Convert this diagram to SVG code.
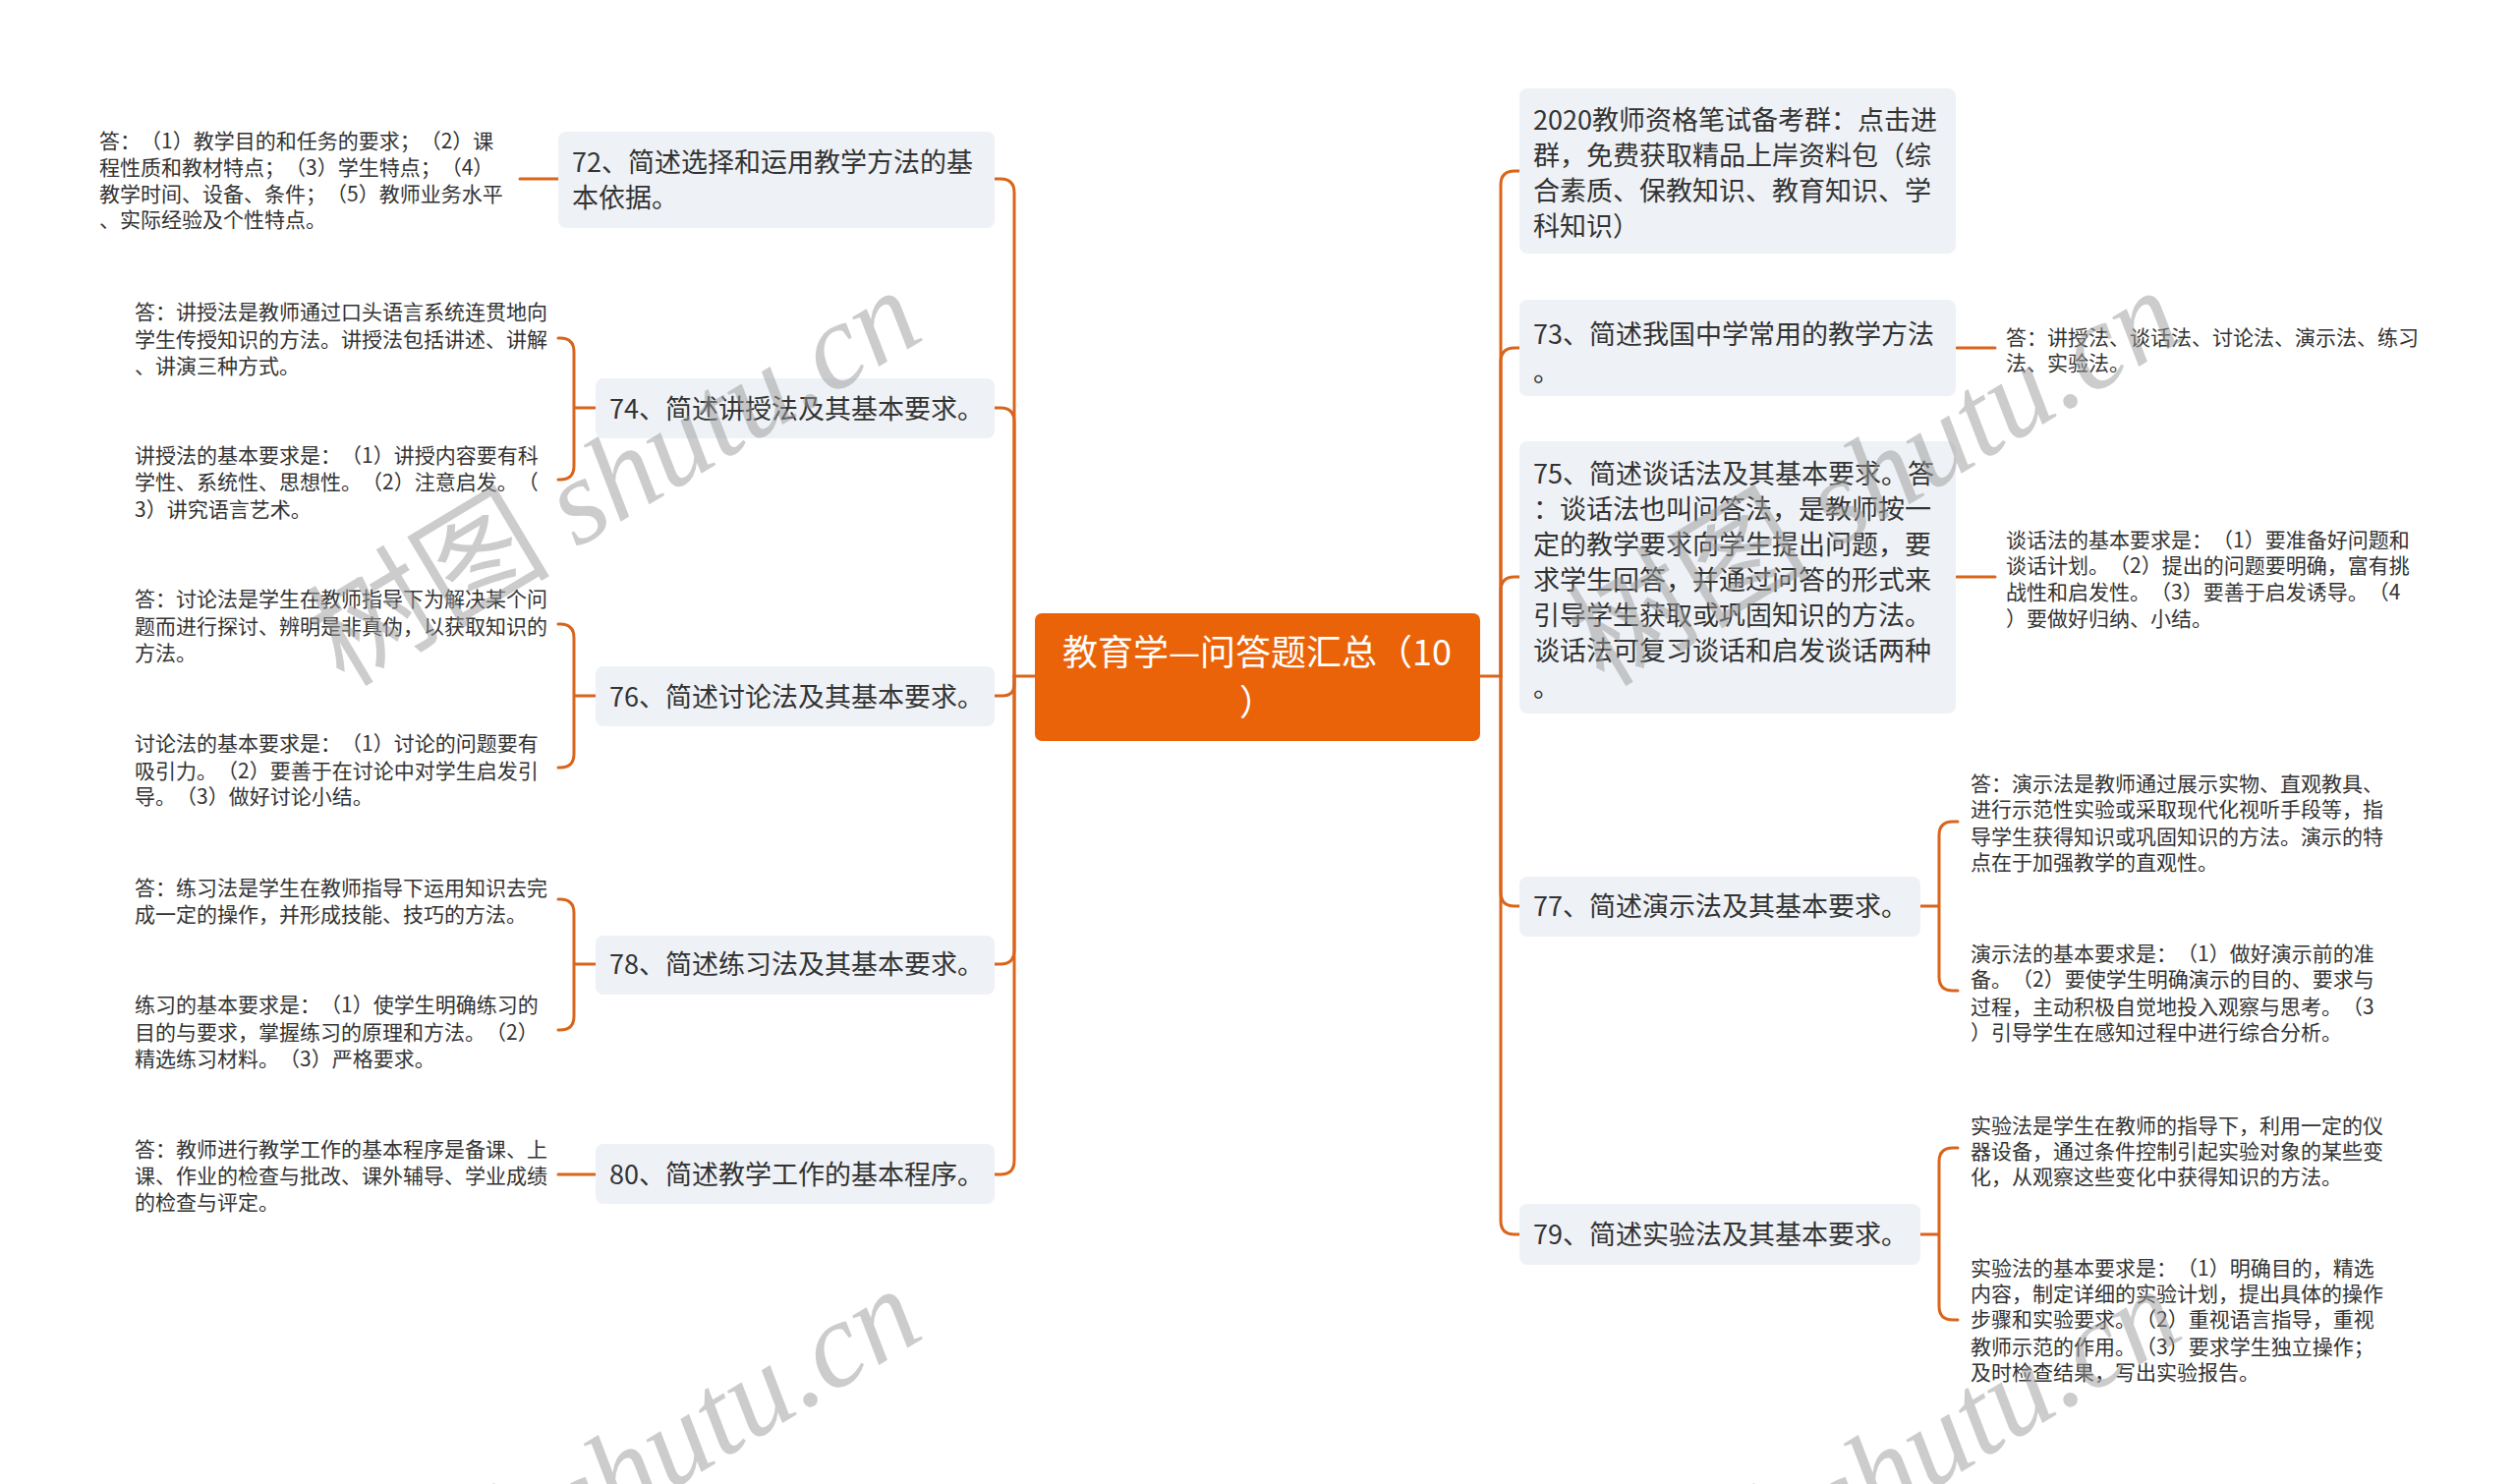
<svg xmlns="http://www.w3.org/2000/svg" width="2560" height="1510" viewBox="0 0 2560 1510">
<style>
.bg{fill:#ffffff}
.box{fill:#EEF1F5}
.root{fill:#EB6309}
.t1{font-family:"Noto Sans CJK SC","Noto Sans",sans-serif;font-size:27px;fill:#333333;text-spacing-trim:space-all}
.t0{font-family:"Noto Sans CJK SC","Noto Sans",sans-serif;font-size:36px;fill:#ffffff;text-spacing-trim:space-all}
.t2{font-family:"Noto Sans CJK SC","Noto Sans",sans-serif;font-size:21px;fill:#333333;text-spacing-trim:space-all}
.ln{fill:none;stroke:#D9651C;stroke-width:3;stroke-linecap:round}
.wm{fill:#999999;fill-opacity:0.5}
.wmc{font-family:"Noto Sans CJK SC",serif}
.wml{font-family:"Liberation Serif",serif;font-style:italic}
</style>
<rect class="bg" x="0" y="0" width="2560" height="1510"/>

<g id="connectors">
  <path class="ln" d="M1053,688 H1032"/>
  <path class="ln" d="M1032,688 V196 Q1032,182 1018,182 H1012"/>
  <path class="ln" d="M1032,688 V429 Q1032,415 1018,415 H1012"/>
  <path class="ln" d="M1032,688 V696 Q1032,708 1020,708 H1012"/>
  <path class="ln" d="M1032,688 V967 Q1032,981 1018,981 H1012"/>
  <path class="ln" d="M1032,688 V1181 Q1032,1195 1018,1195 H1012"/>
  <path class="ln" d="M1505,688 H1527"/>
  <path class="ln" d="M1527,688 V188 Q1527,174 1541,174 H1546"/>
  <path class="ln" d="M1527,688 V368 Q1527,354 1541,354 H1546"/>
  <path class="ln" d="M1527,688 V601 Q1527,587 1541,587 H1546"/>
  <path class="ln" d="M1527,688 V908 Q1527,922 1541,922 H1546"/>
  <path class="ln" d="M1527,688 V1242 Q1527,1256 1541,1256 H1546"/>
  <path class="ln" d="M568,182 H529"/>
  <path class="ln" d="M606,415 H584 M584,415 V358 Q584,344 570,344 H568 M584,415 V474 Q584,488 570,488 H568"/>
  <path class="ln" d="M606,708 H584 M584,708 V649 Q584,635 570,635 H568 M584,708 V767 Q584,781 570,781 H568"/>
  <path class="ln" d="M606,981 H584 M584,981 V929 Q584,915 570,915 H568 M584,981 V1034 Q584,1048 570,1048 H568"/>
  <path class="ln" d="M606,1195 H568"/>
  <path class="ln" d="M1991,354 H2030"/>
  <path class="ln" d="M1991,587 H2030"/>
  <path class="ln" d="M1954,922 H1973 M1973,922 V850 Q1973,836 1987,836 H1992 M1973,922 V994 Q1973,1008 1987,1008 H1992"/>
  <path class="ln" d="M1954,1256 H1973 M1973,1256 V1182 Q1973,1168 1987,1168 H1992 M1973,1256 V1329 Q1973,1343 1987,1343 H1992"/>
</g>

<g id="root">
  <rect class="root" x="1053" y="624" width="453" height="130" rx="7"/>
  <text class="t0" x="1279" y="677" text-anchor="middle">教育学—问答题汇总（10</text>
  <text class="t0" x="1279" y="728" text-anchor="middle">）</text>
</g>

<g id="n72">
  <rect class="box" x="568" y="134" width="444" height="98" rx="8"/>
  <text class="t1" x="582" y="175">72、简述选择和运用教学方法的基</text>
  <text class="t1" x="582" y="211">本依据。</text>
</g>
<g id="n74">
  <rect class="box" x="606" y="385" width="406" height="61" rx="8"/>
  <text class="t1" x="620" y="426">74、简述讲授法及其基本要求。</text>
</g>
<g id="n76">
  <rect class="box" x="606" y="678" width="406" height="61" rx="8"/>
  <text class="t1" x="620" y="719">76、简述讨论法及其基本要求。</text>
</g>
<g id="n78">
  <rect class="box" x="606" y="952" width="406" height="60" rx="8"/>
  <text class="t1" x="620" y="991">78、简述练习法及其基本要求。</text>
</g>
<g id="n80">
  <rect class="box" x="606" y="1164" width="406" height="61" rx="8"/>
  <text class="t1" x="620" y="1205">80、简述教学工作的基本程序。</text>
</g>

<g id="n2020">
  <rect class="box" x="1546" y="90" width="444" height="168" rx="8"/>
  <text class="t1" x="1560" y="132">2020教师资格笔试备考群：点击进</text>
  <text class="t1" x="1560" y="168">群，免费获取精品上岸资料包（综</text>
  <text class="t1" x="1560" y="204">合素质、保教知识、教育知识、学</text>
  <text class="t1" x="1560" y="240">科知识）</text>
</g>
<g id="n73">
  <rect class="box" x="1546" y="305" width="444" height="98" rx="8"/>
  <text class="t1" x="1560" y="350">73、简述我国中学常用的教学方法</text>
  <text class="t1" x="1560" y="388">。</text>
</g>
<g id="n75">
  <rect class="box" x="1546" y="449" width="444" height="277" rx="8"/>
  <text class="t1" x="1560" y="492">75、简述谈话法及其基本要求。答</text>
  <text class="t1" x="1560" y="528">：谈话法也叫问答法，是教师按一</text>
  <text class="t1" x="1560" y="564">定的教学要求向学生提出问题，要</text>
  <text class="t1" x="1560" y="600">求学生回答，并通过问答的形式来</text>
  <text class="t1" x="1560" y="636">引导学生获取或巩固知识的方法。</text>
  <text class="t1" x="1560" y="672">谈话法可复习谈话和启发谈话两种</text>
  <text class="t1" x="1560" y="709">。</text>
</g>
<g id="n77">
  <rect class="box" x="1546" y="892" width="408" height="61" rx="8"/>
  <text class="t1" x="1560" y="932">77、简述演示法及其基本要求。</text>
</g>
<g id="n79">
  <rect class="box" x="1546" y="1225" width="408" height="62" rx="8"/>
  <text class="t1" x="1560" y="1266">79、简述实验法及其基本要求。</text>
</g>

<g id="l72">
  <text class="t2" x="101" y="151">答：（1）教学目的和任务的要求；（2）课</text>
  <text class="t2" x="101" y="178">程性质和教材特点；（3）学生特点；（4）</text>
  <text class="t2" x="101" y="205">教学时间、设备、条件；（5）教师业务水平</text>
  <text class="t2" x="101" y="231">、实际经验及个性特点。</text>
</g>
<g id="l74a">
  <text class="t2" x="137" y="325">答：讲授法是教师通过口头语言系统连贯地向</text>
  <text class="t2" x="137" y="353">学生传授知识的方法。讲授法包括讲述、讲解</text>
  <text class="t2" x="137" y="380">、讲演三种方式。</text>
</g>
<g id="l74b">
  <text class="t2" x="137" y="471">讲授法的基本要求是：（1）讲授内容要有科</text>
  <text class="t2" x="137" y="498">学性、系统性、思想性。（2）注意启发。（</text>
  <text class="t2" x="137" y="526">3）讲究语言艺术。</text>
</g>
<g id="l76a">
  <text class="t2" x="137" y="617">答：讨论法是学生在教师指导下为解决某个问</text>
  <text class="t2" x="137" y="645">题而进行探讨、辨明是非真伪，以获取知识的</text>
  <text class="t2" x="137" y="672">方法。</text>
</g>
<g id="l76b">
  <text class="t2" x="137" y="764">讨论法的基本要求是：（1）讨论的问题要有</text>
  <text class="t2" x="137" y="792">吸引力。（2）要善于在讨论中对学生启发引</text>
  <text class="t2" x="137" y="818">导。（3）做好讨论小结。</text>
</g>
<g id="l78a">
  <text class="t2" x="137" y="911">答：练习法是学生在教师指导下运用知识去完</text>
  <text class="t2" x="137" y="938">成一定的操作，并形成技能、技巧的方法。</text>
</g>
<g id="l78b">
  <text class="t2" x="137" y="1030">练习的基本要求是：（1）使学生明确练习的</text>
  <text class="t2" x="137" y="1058">目的与要求，掌握练习的原理和方法。（2）</text>
  <text class="t2" x="137" y="1085">精选练习材料。（3）严格要求。</text>
</g>
<g id="l80">
  <text class="t2" x="137" y="1177">答：教师进行教学工作的基本程序是备课、上</text>
  <text class="t2" x="137" y="1204">课、作业的检查与批改、课外辅导、学业成绩</text>
  <text class="t2" x="137" y="1231">的检查与评定。</text>
</g>

<g id="l73">
  <text class="t2" x="2041" y="351">答：讲授法、谈话法、讨论法、演示法、练习</text>
  <text class="t2" x="2041" y="377">法、实验法。</text>
</g>
<g id="l75">
  <text class="t2" x="2041" y="557">谈话法的基本要求是：（1）要准备好问题和</text>
  <text class="t2" x="2041" y="583">谈话计划。（2）提出的问题要明确，富有挑</text>
  <text class="t2" x="2041" y="610">战性和启发性。（3）要善于启发诱导。（4</text>
  <text class="t2" x="2041" y="637">）要做好归纳、小结。</text>
</g>
<g id="l77a">
  <text class="t2" x="2005" y="805">答：演示法是教师通过展示实物、直观教具、</text>
  <text class="t2" x="2005" y="831">进行示范性实验或采取现代化视听手段等，指</text>
  <text class="t2" x="2005" y="859">导学生获得知识或巩固知识的方法。演示的特</text>
  <text class="t2" x="2005" y="885">点在于加强教学的直观性。</text>
</g>
<g id="l77b">
  <text class="t2" x="2005" y="978">演示法的基本要求是：（1）做好演示前的准</text>
  <text class="t2" x="2005" y="1004">备。（2）要使学生明确演示的目的、要求与</text>
  <text class="t2" x="2005" y="1032">过程，主动积极自觉地投入观察与思考。（3</text>
  <text class="t2" x="2005" y="1058">）引导学生在感知过程中进行综合分析。</text>
</g>
<g id="l79a">
  <text class="t2" x="2005" y="1153">实验法是学生在教师的指导下，利用一定的仪</text>
  <text class="t2" x="2005" y="1179">器设备，通过条件控制引起实验对象的某些变</text>
  <text class="t2" x="2005" y="1205">化，从观察这些变化中获得知识的方法。</text>
</g>
<g id="l79b">
  <text class="t2" x="2005" y="1298">实验法的基本要求是：（1）明确目的，精选</text>
  <text class="t2" x="2005" y="1324">内容，制定详细的实验计划，提出具体的操作</text>
  <text class="t2" x="2005" y="1350">步骤和实验要求。（2）重视语言指导，重视</text>
  <text class="t2" x="2005" y="1378">教师示范的作用。（3）要求学生独立操作；</text>
  <text class="t2" x="2005" y="1404">及时检查结果，写出实验报告。</text>
</g>

<g id="watermark" class="wm">
  <text transform="translate(350,700) rotate(-31)" font-size="124"><tspan class="wmc">树图 </tspan><tspan class="wml">shutu.cn</tspan></text>
  <text transform="translate(1632,700) rotate(-31)" font-size="124"><tspan class="wmc">树图 </tspan><tspan class="wml">shutu.cn</tspan></text>
  <text transform="translate(350,1716) rotate(-31)" font-size="124"><tspan class="wmc">树图 </tspan><tspan class="wml">shutu.cn</tspan></text>
  <text transform="translate(1632,1716) rotate(-31)" font-size="124"><tspan class="wmc">树图 </tspan><tspan class="wml">shutu.cn</tspan></text>
</g>
</svg>
